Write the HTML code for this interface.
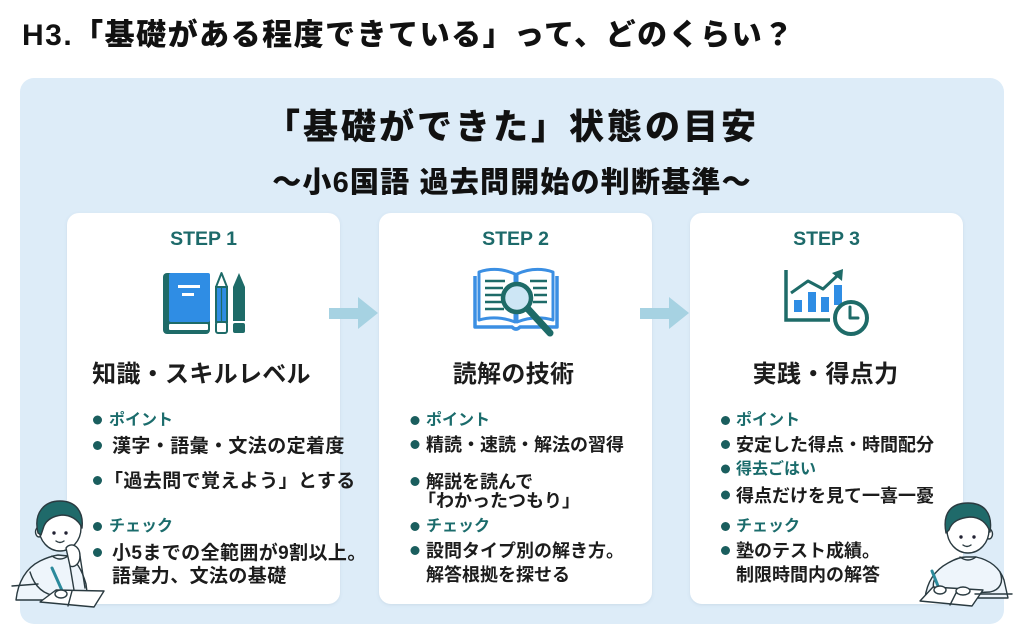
<!DOCTYPE html>
<html><head><meta charset="utf-8">
<style>
html,body{margin:0;padding:0;background:#fff;}
#w{position:relative;width:1024px;height:637px;overflow:hidden;background:#fff;font-family:"Liberation Sans","Noto Sans CJK JP",sans-serif;font-weight:bold;}
svg{position:absolute;left:0;top:0;}
.t{position:absolute;white-space:nowrap;line-height:1;color:#1c1c1c;}
.c{text-align:center;}
.tl{color:#1b6c6c;font-size:16px;}
.b1{font-size:19px;letter-spacing:0.4px;}
.b{font-size:18px;}
.step{font-size:19.5px;color:#1d6a6a;}
.h{font-size:24px;letter-spacing:0.3px;}
.hv{font-weight:900;}
</style></head><body>
<div id="w">
<svg width="1024" height="637" viewBox="0 0 1024 637">
<defs>
<filter id="sh" x="-5%" y="-5%" width="110%" height="110%"><feDropShadow dx="0" dy="1" stdDeviation="1.5" flood-color="#5a7a90" flood-opacity="0.15"/></filter>
</defs>
<rect x="20" y="78" width="984" height="546" rx="14" fill="#ddecf8"/>
<rect x="67" y="213" width="273" height="391" rx="12" fill="#fff" filter="url(#sh)"/>
<rect x="379" y="213" width="273" height="391" rx="12" fill="#fff" filter="url(#sh)"/>
<rect x="690" y="213" width="273" height="391" rx="12" fill="#fff" filter="url(#sh)"/>
<!-- arrows -->
<polygon points="329,308 358,308 358,297 378,313 358,329 358,319 329,319" fill="#a6d2e2"/>
<polygon points="640,308 669,308 669,297 689,313 669,329 669,319 640,319" fill="#a6d2e2"/>
<!-- icon 1 -->
<rect x="163" y="273" width="47" height="61" rx="4" fill="#1e6b68"/>
<rect x="169" y="273" width="41" height="49" rx="2" fill="#2f8de4"/>
<rect x="169" y="324" width="39" height="6" rx="1" fill="#fff"/>
<rect x="178" y="285" width="22" height="3" fill="#fff"/>
<rect x="182" y="293" width="12" height="3" fill="#fff"/>
<rect x="216" y="287" width="11" height="35" fill="#2f8de4" stroke="#1e6b68" stroke-width="2"/>
<line x1="221.5" y1="288" x2="221.5" y2="321" stroke="#1e6b68" stroke-width="1.2"/>
<polygon points="216,287 221.5,273 227,287" fill="#fff" stroke="#1e6b68" stroke-width="2" stroke-linejoin="round"/>
<rect x="216" y="322" width="11" height="11" rx="2" fill="#fff" stroke="#1e6b68" stroke-width="2"/>
<rect x="233" y="287" width="12" height="34" fill="#1e6b68"/>
<polygon points="233,287 239,273 245,287" fill="#1e6b68"/>
<rect x="233" y="323" width="12" height="10" rx="2" fill="#1e6b68"/>
<!-- icon 2 -->
<path d="M475,276 L475,327 L512,327 Q516,331 520,327 L557,327 L557,276" fill="none" stroke="#3b8fe3" stroke-width="3.5" stroke-linejoin="round"/>
<path d="M479,272 Q497,266 515,274 L515,322 Q497,315 479,320 Z" fill="#fff" stroke="#3b8fe3" stroke-width="3" stroke-linejoin="round"/>
<path d="M553,272 Q535,266 517,274 L517,322 Q535,315 553,320 Z" fill="#fff" stroke="#3b8fe3" stroke-width="3" stroke-linejoin="round"/>
<g stroke="#1e6b68" stroke-width="2.5">
<line x1="485" y1="281" x2="505" y2="281"/><line x1="485" y1="288" x2="503" y2="288"/><line x1="485" y1="295" x2="502" y2="295"/><line x1="485" y1="302" x2="502" y2="302"/><line x1="485" y1="309" x2="504" y2="309"/>
<line x1="530" y1="281" x2="547" y2="281"/><line x1="533" y1="288" x2="547" y2="288"/><line x1="534" y1="295" x2="547" y2="295"/><line x1="533" y1="302" x2="547" y2="302"/>
</g>
<circle cx="517" cy="298" r="14" fill="#cde6f5" stroke="#1e6b68" stroke-width="4.5"/>
<line x1="528" y1="309" x2="550" y2="333" stroke="#1e6b68" stroke-width="7" stroke-linecap="round"/>
<!-- icon 3 -->
<path d="M786,270 L786,320 L830,320" fill="none" stroke="#1e6b68" stroke-width="3.5"/>
<rect x="794" y="300" width="8" height="12" fill="#2f8de4"/>
<rect x="808" y="292" width="8" height="20" fill="#2f8de4"/>
<rect x="821" y="297" width="8" height="15" fill="#2f8de4"/>
<rect x="834" y="285" width="8" height="20" fill="#2f8de4"/>
<polyline points="791,293 808,281 823,289 837,276" fill="none" stroke="#1e6b68" stroke-width="3" stroke-linejoin="round"/>
<polygon points="843,269 842,281 832,273" fill="#1e6b68"/>
<circle cx="851" cy="318" r="16" fill="#fff" stroke="#1e6b68" stroke-width="4"/>
<path d="M850,307 L850,318 L858,318" fill="none" stroke="#1e6b68" stroke-width="3" stroke-linecap="round" stroke-linejoin="round"/>
<!-- bullets -->
<g fill="#1a5e5e">
<circle cx="97.5" cy="420" r="4.5"/><circle cx="97.5" cy="445.5" r="4.5"/><circle cx="97.5" cy="480.5" r="4.5"/><circle cx="97.5" cy="526.5" r="4.5"/><circle cx="97.5" cy="552.5" r="4.5"/>
<circle cx="415" cy="420.5" r="4.5"/><circle cx="415" cy="444.5" r="4.5"/><circle cx="415" cy="481.5" r="4.5"/><circle cx="415" cy="526.5" r="4.5"/><circle cx="415" cy="550.5" r="4.5"/>
<circle cx="725.5" cy="420.5" r="4.5"/><circle cx="725.5" cy="444.5" r="4.5"/><circle cx="725.5" cy="469" r="4.5"/><circle cx="725.5" cy="495" r="4.5"/><circle cx="725.5" cy="526.5" r="4.5"/><circle cx="725.5" cy="550.5" r="4.5"/>
</g>
<!-- left kid -->
<g stroke="#2a3a40" stroke-width="1.4" stroke-linejoin="round" stroke-linecap="round">
<path d="M16,600 C18,582 26,568 40,561 C46,558 52,556 58,555 L68,556 C76,560 82,570 86,584 L88,600 Z" fill="#eef5fb"/>
<path d="M52,556 Q60,562 68,556" fill="none"/>
<ellipse cx="39" cy="532" rx="3.5" ry="5" fill="#fff"/>
<ellipse cx="60" cy="528" rx="21" ry="23" fill="#fff"/>
<path d="M38,533 C33,512 45,501 60,501 C75,501 84,511 82,528 C78,519 70,515 62,515 C54,516 47,519 44,526 L41,535 Z" fill="#1f6a6a"/>
<path d="M56,541 Q60,544 64,541" fill="none"/>
<path d="M66,548 C70,542 80,545 80,556 C80,564 74,568 70,566 Z" fill="#fff"/>
<path d="M70,566 L74,590 M80,556 L85,588" fill="none"/>
<path d="M30,572 C34,585 42,595 58,596" fill="none"/>
<polygon points="40,602 56,590 104,591 94,607" fill="#fff"/>
<path d="M72,591 L68,606" fill="none"/>
<path d="M12,586 L38,584" fill="none"/>
</g>
<circle cx="54" cy="533" r="1.7" fill="#223"/><circle cx="66" cy="533" r="1.7" fill="#223"/>
<line x1="52" y1="568" x2="64" y2="595" stroke="#2b8a9c" stroke-width="3" stroke-linecap="round"/>
<ellipse cx="61" cy="594" rx="6" ry="4" fill="#fff" stroke="#2a3a40" stroke-width="1.4"/>
<!-- right kid -->
<g stroke="#2a3a40" stroke-width="1.4" stroke-linejoin="round" stroke-linecap="round">
<path d="M925,598 C927,582 935,570 948,563 C955,559 960,557 966,557 L976,557 C990,560 1000,568 1004,580 L1008,598 Z" fill="#eef5fb"/>
<path d="M960,557 Q968,563 976,557" fill="none"/>
<ellipse cx="989" cy="534" rx="3.5" ry="5" fill="#fff"/>
<ellipse cx="968" cy="530" rx="21" ry="23" fill="#fff"/>
<path d="M946,533 C942,512 952,503 968,503 C984,503 993,513 990,532 C987,523 980,517 970,517 C960,518 952,521 949,530 Z" fill="#1f6a6a"/>
<path d="M963,545 Q967,548 971,545" fill="none"/>
<path d="M935,578 C932,585 933,590 938,592" fill="none"/>
<path d="M1000,572 C1004,582 1000,590 990,592 L970,593" fill="none"/>
<polygon points="920,601 933,587 983,590 972,606" fill="#fff"/>
<path d="M958,589 L950,605" fill="none"/>
<path d="M975,594 L1012,594" fill="none"/>
</g>
<circle cx="961" cy="537" r="1.7" fill="#223"/><circle cx="974" cy="537" r="1.7" fill="#223"/>
<line x1="932" y1="571" x2="940" y2="591" stroke="#2b8a9c" stroke-width="3" stroke-linecap="round"/>
<ellipse cx="940" cy="590" rx="6" ry="4" fill="#fff" stroke="#2a3a40" stroke-width="1.4"/>
<ellipse cx="963" cy="591" rx="7" ry="4" fill="#fff" stroke="#2a3a40" stroke-width="1.4"/>
</svg>

<div class="t hv" style="left:22px;top:21px;font-size:30px;letter-spacing:1.5px;color:#111;">H3.「基礎がある程度できている」って、どのくらい？</div>
<div class="t c hv" style="left:0;width:1024px;top:109.5px;font-size:35px;letter-spacing:3px;color:#111;">「基礎ができた」状態の目安</div>
<div class="t c hv" style="left:0;width:1024px;top:169px;font-size:29px;letter-spacing:1.2px;color:#111;">〜小6国語 過去問開始の判断基準〜</div>

<div class="t c step" style="left:67px;width:273px;top:229.5px;">STEP 1</div>
<div class="t c step" style="left:379px;width:273px;top:229.5px;">STEP 2</div>
<div class="t c step" style="left:690px;width:273px;top:229.5px;">STEP 3</div>

<div class="t c h" style="left:65px;width:273px;top:362.5px;">知識・スキルレベル</div>
<div class="t c h" style="left:377px;width:273px;top:362.5px;">読解の技術</div>
<div class="t c h" style="left:689px;width:273px;top:362.5px;">実践・得点力</div>

<div class="t tl" style="left:109px;top:412.5px;">ポイント</div>
<div class="t b1" style="left:112px;top:436.6px;">漢字・語彙・文法の定着度</div>
<div class="t b1" style="left:104px;top:471.6px;">「過去問で覚えよう」とする</div>
<div class="t tl" style="left:109px;top:519px;">チェック</div>
<div class="t b1" style="left:112px;top:543.6px;">小5までの全範囲が9割以上。</div>
<div class="t b1" style="left:112px;top:566.6px;">語彙力、文法の基礎</div>

<div class="t tl" style="left:426px;top:413px;">ポイント</div>
<div class="t b" style="left:426px;top:436px;">精読・速読・解法の習得</div>
<div class="t b" style="left:426px;top:473px;">解説を読んで</div>
<div class="t b" style="left:418px;top:492px;">「わかったつもり」</div>
<div class="t tl" style="left:426px;top:519px;">チェック</div>
<div class="t b" style="left:426px;top:542px;">設問タイプ別の解き方。</div>
<div class="t b" style="left:426px;top:566px;">解答根拠を探せる</div>

<div class="t tl" style="left:736px;top:413px;">ポイント</div>
<div class="t b" style="left:736px;top:436px;">安定した得点・時間配分</div>
<div class="t tl" style="left:736px;top:461.5px;">得去ごはい</div>
<div class="t b" style="left:736px;top:486.5px;">得点だけを見て一喜一憂</div>
<div class="t tl" style="left:736px;top:519px;">チェック</div>
<div class="t b" style="left:736px;top:542px;">塾のテスト成績。</div>
<div class="t b" style="left:736px;top:566px;">制限時間内の解答</div>
</div>
</body></html>
